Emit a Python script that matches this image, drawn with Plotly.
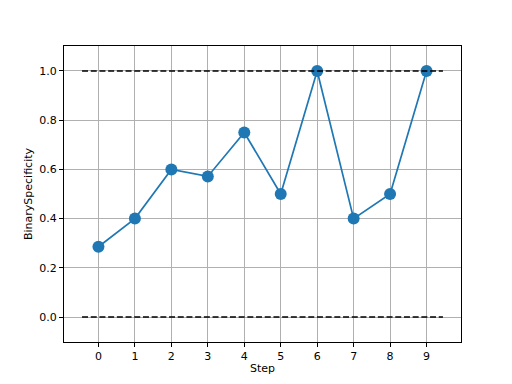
import plotly.graph_objects as go

steps = [0, 1, 2, 3, 4, 5, 6, 7, 8, 9]
specificity = [2/7, 0.4, 0.6, 4/7, 0.75, 0.5, 1.0, 0.4, 0.5, 1.0]
bound_x = [-0.45, 9.45]
upper_bound = [1.0, 1.0]
lower_bound = [0.0, 0.0]
x_ticks = [0, 1, 2, 3, 4, 5, 6, 7, 8, 9]
y_ticks = [0.0, 0.2, 0.4, 0.6, 0.8, 1.0]
y_tick_labels = ["0.0", "0.2", "0.4", "0.6", "0.8", "1.0"]

fig = go.Figure()
fig.add_trace(go.Scatter(x=steps, y=specificity, mode="lines+markers",
                         line=dict(color="#1f77b4", width=1.7),
                         marker=dict(color="#1f77b4", size=12)))
for yb in (upper_bound, lower_bound):
    fig.add_trace(go.Scatter(x=bound_x, y=yb, mode="lines",
                             line=dict(color="black", width=1.7, dash="6px,2.7px")))

axis_common = dict(showline=True, linecolor="black", linewidth=1, mirror=True,
                   ticks="outside", ticklen=4, tickcolor="black", tickwidth=1,
                   showgrid=True, gridcolor="#b0b0b0", gridwidth=0.9,
                   zeroline=False, tickfont=dict(family="DejaVu Sans", size=11, color="black"))
fig.update_xaxes(range=[-0.945, 9.945], tickvals=x_ticks,
                 title=dict(text="Step", font=dict(family="DejaVu Sans", size=11, color="black"), standoff=2),
                 **axis_common)
fig.update_yaxes(range=[-0.1016, 1.1016], tickvals=y_ticks, ticktext=y_tick_labels,
                 title=dict(text="BinarySpecificity", font=dict(family="DejaVu Sans", size=11, color="black"), standoff=4),
                 **axis_common)
fig.update_layout(width=512, height=384, margin=dict(l=64, r=51, t=46, b=42),
                  paper_bgcolor="white", plot_bgcolor="white", showlegend=False)
fig.write_html("out.html")
